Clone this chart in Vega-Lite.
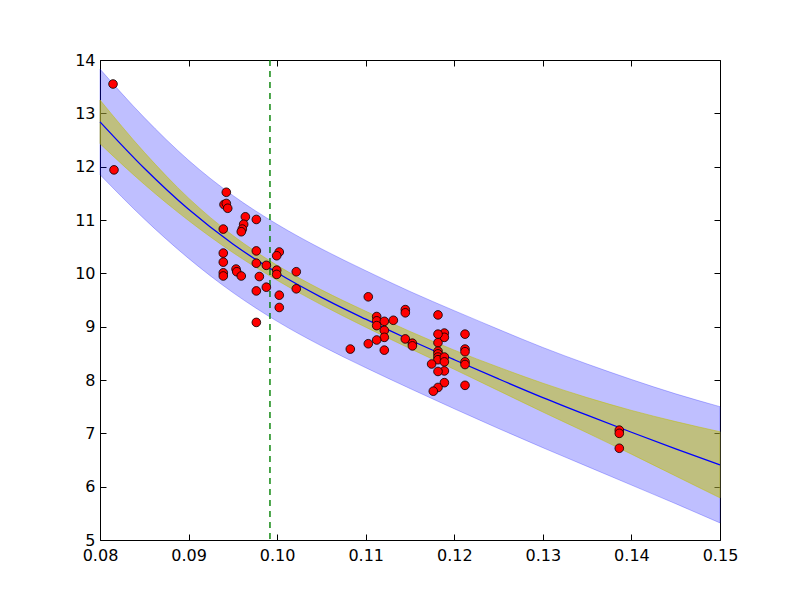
{
  "$schema": "https://vega.github.io/schema/vega-lite/v6.json",
  "width": 620,
  "height": 480,
  "autosize": {"type": "none"},
  "padding": {"left": 100, "top": 60, "right": 80, "bottom": 60},
  "background": "white",
  "config": {
    "view": {"stroke": "black", "strokeWidth": 1},
    "axis": {
      "domain": false,
      "grid": false,
      "ticks": true,
      "tickColor": "black",
      "tickSize": -6,
      "tickWidth": 1,
      "labelFont": "DejaVu Sans",
      "labelFontSize": 16,
      "labelColor": "black",
      "labelFlush": false,
      "labelOverlap": false,
      "title": null
    },
    "axisX": {"labelPadding": 13},
    "axisY": {"labelPadding": 11}
  },
  "datasets": {
    "band": [
      {"x": 0.080, "lo_o": 11.85, "lo_i": 12.43, "mean": 12.84, "hi_i": 13.25, "hi_o": 13.83},
      {"x": 0.085, "lo_o": 11.02, "lo_i": 11.67, "mean": 11.97, "hi_i": 12.27, "hi_o": 12.92},
      {"x": 0.090, "lo_o": 10.28, "lo_i": 10.99, "mean": 11.20, "hi_i": 11.41, "hi_o": 12.12},
      {"x": 0.095, "lo_o": 9.64, "lo_i": 10.39, "mean": 10.55, "hi_i": 10.71, "hi_o": 11.46},
      {"x": 0.100, "lo_o": 9.10, "lo_i": 9.87, "mean": 10.01, "hi_i": 10.15, "hi_o": 10.92},
      {"x": 0.105, "lo_o": 8.64, "lo_i": 9.41, "mean": 9.55, "hi_i": 9.69, "hi_o": 10.46},
      {"x": 0.110, "lo_o": 8.23, "lo_i": 8.99, "mean": 9.14, "hi_i": 9.29, "hi_o": 10.05},
      {"x": 0.115, "lo_o": 7.84, "lo_i": 8.59, "mean": 8.75, "hi_i": 8.91, "hi_o": 9.66},
      {"x": 0.120, "lo_o": 7.46, "lo_i": 8.20, "mean": 8.38, "hi_i": 8.56, "hi_o": 9.30},
      {"x": 0.125, "lo_o": 7.09, "lo_i": 7.80, "mean": 8.02, "hi_i": 8.24, "hi_o": 8.95},
      {"x": 0.130, "lo_o": 6.73, "lo_i": 7.40, "mean": 7.67, "hi_i": 7.94, "hi_o": 8.61},
      {"x": 0.135, "lo_o": 6.38, "lo_i": 7.01, "mean": 7.34, "hi_i": 7.67, "hi_o": 8.30},
      {"x": 0.140, "lo_o": 6.03, "lo_i": 6.61, "mean": 7.02, "hi_i": 7.43, "hi_o": 8.01},
      {"x": 0.145, "lo_o": 5.68, "lo_i": 6.20, "mean": 6.71, "hi_i": 7.22, "hi_o": 7.74},
      {"x": 0.150, "lo_o": 5.32, "lo_i": 5.79, "mean": 6.41, "hi_i": 7.03, "hi_o": 7.50}
    ],
    "pts": [
      {"x": 0.08147, "y": 13.55}, {"x": 0.08158, "y": 11.94},
      {"x": 0.09426, "y": 11.52}, {"x": 0.0940, "y": 11.29}, {"x": 0.09426, "y": 11.31}, {"x": 0.09442, "y": 11.22},
      {"x": 0.09641, "y": 11.06}, {"x": 0.09765, "y": 11.01},
      {"x": 0.09622, "y": 10.92}, {"x": 0.09607, "y": 10.83}, {"x": 0.09595, "y": 10.78},
      {"x": 0.09392, "y": 10.83}, {"x": 0.09392, "y": 10.38}, {"x": 0.09765, "y": 10.42},
      {"x": 0.10024, "y": 10.40}, {"x": 0.09995, "y": 10.33},
      {"x": 0.09392, "y": 10.21}, {"x": 0.09765, "y": 10.19}, {"x": 0.09878, "y": 10.15},
      {"x": 0.09995, "y": 10.06}, {"x": 0.09995, "y": 9.98}, {"x": 0.10216, "y": 10.03},
      {"x": 0.09392, "y": 10.01}, {"x": 0.09392, "y": 9.95},
      {"x": 0.09536, "y": 10.08}, {"x": 0.09544, "y": 10.03}, {"x": 0.09595, "y": 9.95}, {"x": 0.09799, "y": 9.94},
      {"x": 0.09765, "y": 9.67}, {"x": 0.09878, "y": 9.74}, {"x": 0.10024, "y": 9.59}, {"x": 0.10216, "y": 9.71},
      {"x": 0.10024, "y": 9.36}, {"x": 0.09765, "y": 9.08},
      {"x": 0.11029, "y": 9.56},
      {"x": 0.11447, "y": 9.32}, {"x": 0.11447, "y": 9.26},
      {"x": 0.11816, "y": 9.22},
      {"x": 0.11124, "y": 9.19}, {"x": 0.11124, "y": 9.11}, {"x": 0.11124, "y": 9.02},
      {"x": 0.1121, "y": 9.10}, {"x": 0.11312, "y": 9.12},
      {"x": 0.1121, "y": 8.93}, {"x": 0.1121, "y": 8.80},
      {"x": 0.11888, "y": 8.88}, {"x": 0.11888, "y": 8.80},
      {"x": 0.11816, "y": 8.86}, {"x": 0.12121, "y": 8.86},
      {"x": 0.11124, "y": 8.75}, {"x": 0.11029, "y": 8.68}, {"x": 0.11447, "y": 8.77},
      {"x": 0.11527, "y": 8.69}, {"x": 0.11527, "y": 8.64},
      {"x": 0.10826, "y": 8.58}, {"x": 0.1121, "y": 8.56},
      {"x": 0.11816, "y": 8.70}, {"x": 0.11816, "y": 8.54}, {"x": 0.11816, "y": 8.49}, {"x": 0.11816, "y": 8.43}, {"x": 0.11816, "y": 8.38},
      {"x": 0.11888, "y": 8.43}, {"x": 0.11888, "y": 8.34}, {"x": 0.11888, "y": 8.17},
      {"x": 0.12121, "y": 8.58}, {"x": 0.12121, "y": 8.53}, {"x": 0.12121, "y": 8.34}, {"x": 0.12121, "y": 8.29},
      {"x": 0.11744, "y": 8.30}, {"x": 0.11816, "y": 8.16}, {"x": 0.11888, "y": 7.95},
      {"x": 0.11816, "y": 7.86}, {"x": 0.11763, "y": 7.79}, {"x": 0.12121, "y": 7.90},
      {"x": 0.13863, "y": 7.06}, {"x": 0.13863, "y": 7.00}, {"x": 0.13863, "y": 6.72}
    ],
    "vline": [{"x": 0.09919}]
  },
  "layer": [
    {
      "data": {"name": "band"},
      "mark": {"type": "area", "interpolate": "monotone", "fill": "#0000ff", "fillOpacity": 0.25, "stroke": "#0000ff", "strokeOpacity": 0.25, "strokeWidth": 1},
      "encoding": {
        "x": {"field": "x", "type": "quantitative", "scale": {"domain": [0.08, 0.15], "nice": false, "zero": false},
              "axis": {"orient": "bottom", "values": [0.08, 0.09, 0.10, 0.11, 0.12, 0.13, 0.14, 0.15], "format": ".2f"}},
        "y": {"field": "lo_o", "type": "quantitative", "scale": {"domain": [5, 14], "nice": false, "zero": false},
              "axis": {"orient": "left", "values": [5, 6, 7, 8, 9, 10, 11, 12, 13, 14], "format": "d"}},
        "y2": {"field": "hi_o"}
      }
    },
    {
      "data": {"name": "band"},
      "mark": {"type": "area", "interpolate": "monotone", "fill": "#bfbf00", "fillOpacity": 0.5, "stroke": "#bfbf00", "strokeOpacity": 0.5, "strokeWidth": 1},
      "encoding": {
        "x": {"field": "x", "type": "quantitative", "axis": null},
        "y": {"field": "lo_i", "type": "quantitative", "axis": null},
        "y2": {"field": "hi_i"}
      }
    },
    {
      "data": {"name": "band"},
      "mark": {"type": "line", "interpolate": "monotone", "color": "#0000ff", "strokeWidth": 1.3},
      "encoding": {
        "x": {"field": "x", "type": "quantitative",
              "axis": {"orient": "top", "values": [0.08, 0.09, 0.10, 0.11, 0.12, 0.13, 0.14, 0.15], "labels": false}},
        "y": {"field": "mean", "type": "quantitative",
              "axis": {"orient": "right", "values": [5, 6, 7, 8, 9, 10, 11, 12, 13, 14], "labels": false}}
      }
    },
    {
      "data": {"name": "vline"},
      "mark": {"type": "rule", "color": "#008000", "strokeWidth": 1.4, "strokeDash": [6, 5]},
      "encoding": {
        "x": {"field": "x", "type": "quantitative", "axis": null}
      }
    },
    {
      "data": {"name": "pts"},
      "mark": {"type": "point", "shape": "circle", "filled": true, "fill": "#ff0000", "fillOpacity": 1, "stroke": "black", "strokeWidth": 0.8, "size": 75},
      "encoding": {
        "x": {"field": "x", "type": "quantitative", "axis": null},
        "y": {"field": "y", "type": "quantitative", "axis": null}
      }
    }
  ]
}
